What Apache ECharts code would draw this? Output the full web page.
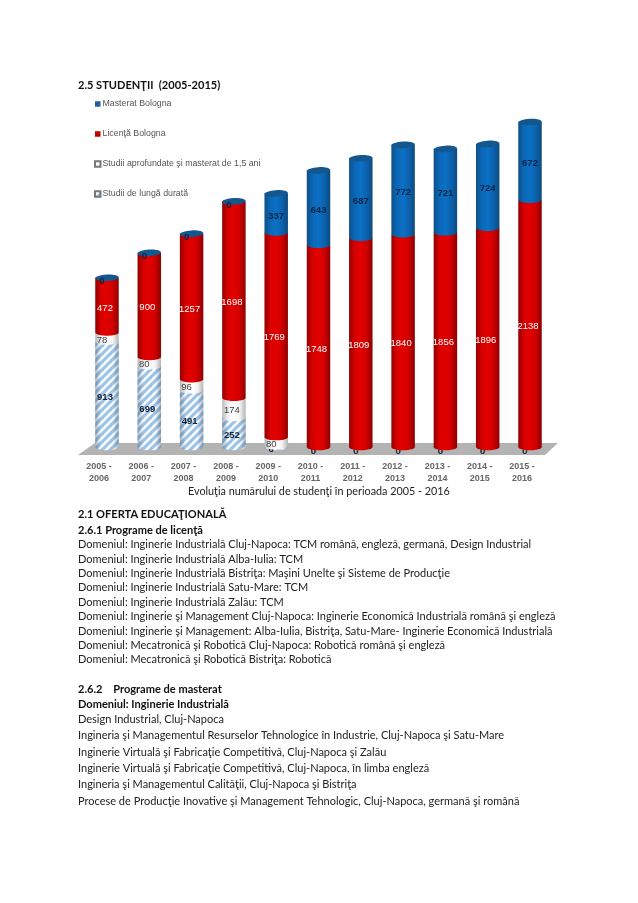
<!DOCTYPE html>
<html><head><meta charset="utf-8">
<style>html,body{margin:0;padding:0;background:#fff}#c{width:638px;height:903px}</style>
<script src="https://cdn.jsdelivr.net/npm/echarts@6/dist/echarts.min.js"></script>
</head><body><div id="c"></div>
<script>
const categories=['2005 -\n2006','2006 -\n2007','2007 -\n2008','2008 -\n2009','2009 -\n2010','2010 -\n2011','2011 -\n2012','2012 -\n2013','2013 -\n2014','2014 -\n2015','2015 -\n2016'];
const lungaDurata=[913,699,491,252,6,0,0,0,0,0,0];
const aprofundate=[78,80,96,174,80,0,0,0,0,0,0];
const licenta=[472,900,1257,1698,1769,1748,1809,1840,1856,1896,2138];
const masterat=[0,0,0,0,337,643,687,772,721,724,672];
const seriesNames=['Studii de lungă durată','Studii aprofundate şi masterat de 1,5 ani','Licenţă Bologna','Masterat Bologna'];
const legendOrder=['Masterat Bologna','Licenţă Bologna','Studii aprofundate şi masterat de 1,5 ani','Studii de lungă durată'];
const pageText=[
 ['2.5 STUDENŢII  (2005-2015)',78,86.5,true],
 ['2.1 OFERTA EDUCAŢIONALĂ',78,515.5,true],
 ['2.6.1 Programe de licenţă',78,532,true],
 ['Domeniul: Inginerie Industrială Cluj-Napoca: TCM română, engleză, germană, Design Industrial',78,546],
 ['Domeniul: Inginerie Industrială Alba-Iulia: TCM',78,560.5],
 ['Domeniul: Inginerie Industrială Bistriţa: Maşini Unelte şi Sisteme de Producţie',78,575],
 ['Domeniul: Inginerie Industrială Satu-Mare: TCM',78,589],
 ['Domeniul: Inginerie Industrială Zalău: TCM',78,604],
 ['Domeniul: Inginerie şi Management Cluj-Napoca: Inginerie Economică Industrială română şi engleză',78,618],
 ['Domeniul: Inginerie şi Management: Alba-Iulia, Bistriţa, Satu-Mare- Inginerie Economică Industrială',78,633],
 ['Domeniul: Mecatronică şi Robotică Cluj-Napoca: Robotică română şi engleză',78,647],
 ['Domeniul: Mecatronică şi Robotică Bistriţa: Robotică',78,661],
 ['2.6.2    Programe de masterat',78,691,true],
 ['Domeniul: Inginerie Industrială',78,706,true],
 ['Design Industrial, Cluj-Napoca',78,721],
 ['Ingineria şi Managementul Resurselor Tehnologice în Industrie, Cluj-Napoca şi Satu-Mare',78,737],
 ['Inginerie Virtuală şi Fabricaţie Competitivă, Cluj-Napoca şi Zalău',78,754],
 ['Inginerie Virtuală şi Fabricaţie Competitivă, Cluj-Napoca, în limba engleză',78,770],
 ['Ingineria şi Managementul Calităţii, Cluj-Napoca şi Bistriţa',78,786],
 ['Procese de Producţie Inovative şi Management Tehnologic, Cluj-Napoca, germană şi română',78,803]
];
const caption='Evoluţia numărului de studenţi în perioada 2005 - 2016';

function hatch(){
  const s=8,c=document.createElement('canvas');c.width=s;c.height=s;
  const g=c.getContext('2d');g.fillStyle='#fff';g.fillRect(0,0,s,s);
  g.strokeStyle='#9dc3e6';g.lineWidth=3.2;
  [[-s,s,s,-s],[0,s,s,0],[0,2*s,2*s,0]].forEach(l=>{g.beginPath();g.moveTo(l[0],l[1]);g.lineTo(l[2],l[3]);g.stroke();});
  return {image:c,repeat:'repeat'};
}
function body(stops){return {type:'linear',x:0,y:0,x2:1,y2:0,colorStops:stops.map((c,i)=>({offset:i/(stops.length-1),color:c}))};}
const fills=[hatch(),
  body(['#b8b8b8','#f2f2f2','#ffffff','#f4f4f4','#b4b4b4']),
  body(['#930000','#d80000','#e20000','#cf0000','#8c0000']),
  body(['#0f4f86','#0a68b8','#0c70c4','#0a62ae','#0e4a7c'])];
const swatches=[fills[0],'#ffffff','#c00000','#1f5f9e'];
const labelColors=['#14233f','#3d3d3d','#ffffff','#0b2547'];
const labelShift=[-2,-2,-2,0];
const shade=body(['rgba(60,90,120,.45)','rgba(60,90,120,0)','rgba(60,90,120,0)','rgba(60,90,120,0)','rgba(60,90,120,.45)']);

const stacks=[lungaDurata,aprofundate,licenta,masterat];
function seriesData(k){
  return categories.map((_,i)=>{
    let base=0;for(let j=0;j<k;j++)base+=stacks[j][i];
    return [i,base,base+stacks[k][i],stacks[k][i]];
  });
}
function render(k){
  return function(p,api){
    const i=api.value(0),v=api.value(3);
    const top=api.coord([i,api.value(2)]),bot=api.coord([i,api.value(1)]);
    const w=api.size([1,0])[0]*0.555,rx=w/2,ry=3.3,cx=top[0],l=cx-rx,r=cx+rx;
    const kids=[];
    if(bot[1]-top[1]>0){
      const pts=[[l,top[1]],[r,top[1]]];
      for(let a=0;a<=24;a++){const t=Math.PI*a/24;pts.push([cx+rx*Math.cos(t),bot[1]+ry*Math.sin(t)]);}
      kids.push({type:'polygon',shape:{points:pts},style:{fill:fills[k]}});
      if(k===0)kids.push({type:'polygon',shape:{points:pts},style:{fill:shade}});
    }
    if(k===3){
      kids.push({type:'ellipse',shape:{cx:cx,cy:top[1],rx:rx,ry:ry},rotation:0.05,originX:cx,originY:top[1],style:{fill:'#14578f'}});
    }
    const show=k===3?i<4||v>0:(k===2?true:(v>0||i>4));
    if(show){
      const small=v<100;
      const seg=(top[1]+bot[1])/2;
      const zero=v===0;
      kids.push({type:'text',z2:5,style:{
        text:String(v),x:cx+(small?-5:labelShift[k]),y:seg+(zero?4:3),
        align:'center',verticalAlign:'middle',font:(k===2||k===1?'normal':'bold')+' 9.5px "Liberation Sans"',
        fill:labelColors[k]}});
    }
    return {type:'group',children:kids};
  };
}
const series=seriesNames.map((name,k)=>({
  type:'custom',name,data:seriesData(k),renderItem:render(k),
  encode:{x:0,y:[1,2]},itemStyle:{color:swatches[k],borderColor:k<2?'#777':'transparent',borderWidth:k<2?0.6:0},
  z:2+k,animation:false,silent:true,clip:false
}));
const pageEls=pageText.map(t=>({type:'text',left:t[1],top:t[2]-7,style:{text:t[0],font:(t[3]?'bold 11.05px':'11px')+' Lato',fill:t[3]?'#111':'#222'}}));
pageEls.push({type:'text',left:188,top:486.5,style:{text:caption,font:'10.8px Lato',fill:'#222'}});
pageEls.push({type:'polygon',z:-1,shape:{points:[[95,443],[558,443],[545,455],[78,455]]},style:{fill:'#b3b3b3'}});

const chart=echarts.init(document.getElementById('c'),null,{renderer:'canvas'});
chart.setOption({
  backgroundColor:'#fff',animation:false,
  grid:{left:85.85,top:100,width:465.3,height:347,containLabel:false},
  legend:{orient:'vertical',left:89,top:94.5,itemWidth:5.5,itemHeight:5.5,itemGap:21,icon:'rect',data:legendOrder,
    textStyle:{color:'#555',fontSize:8.8,fontFamily:'Liberation Sans',padding:[0,0,0,-3]},selectedMode:false},
  xAxis:{type:'category',data:categories,axisLine:{show:false},axisTick:{show:false},
    axisLabel:{color:'#666',fontSize:9,fontWeight:'bold',fontFamily:'Liberation Sans',lineHeight:11.5,margin:14,padding:[0,16,0,0],interval:0}},
  yAxis:{type:'value',min:0,max:3000,show:false,splitLine:{show:false}},
  graphic:{elements:pageEls},
  series
});
</script></body></html>
